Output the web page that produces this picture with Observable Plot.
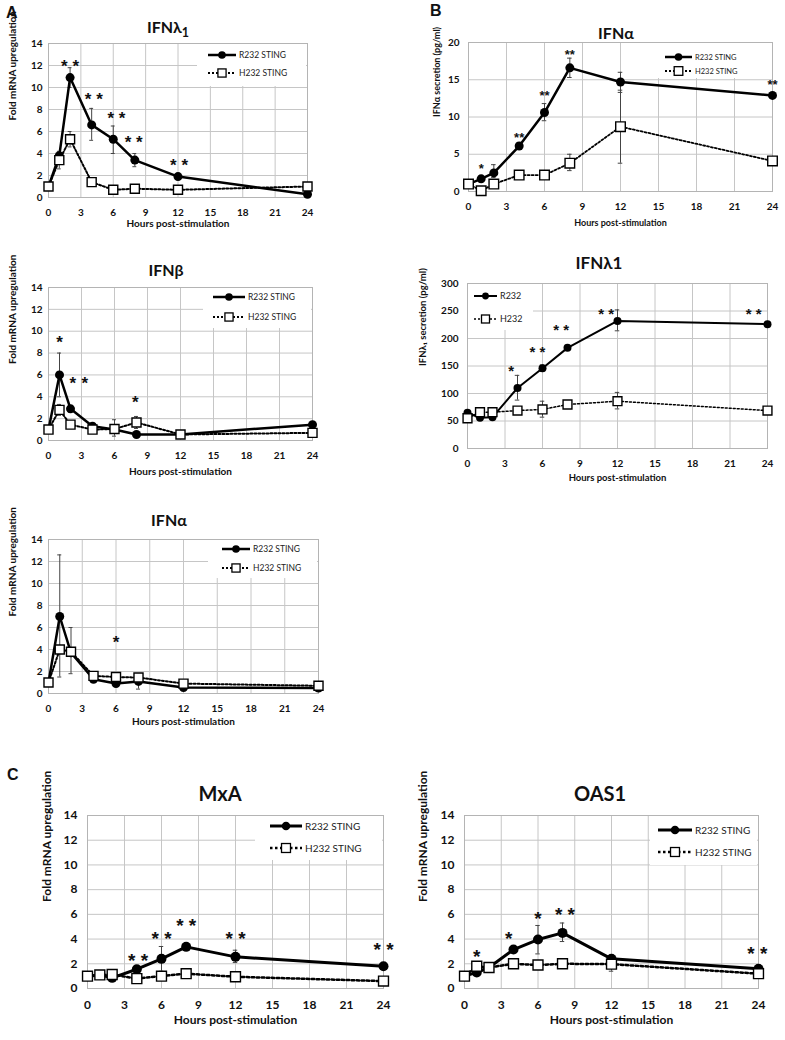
<!DOCTYPE html>
<html><head><meta charset="utf-8">
<script src="https://cdn.jsdelivr.net/npm/d3@7"></script>
<script src="https://cdn.jsdelivr.net/npm/@observablehq/plot@0.6"></script>
<style>
body{margin:0;background:#fff;}
#root{position:relative;width:785px;height:1040px;overflow:hidden;font-family:Lato,sans-serif;}
.ttl{position:absolute;transform:translate(-50%,-50%);font-weight:bold;white-space:nowrap;color:#111;line-height:1;}
.ttl sub{font-size:0.78em;vertical-align:-0.3em;line-height:0;}
.let{position:absolute;font-family:"Liberation Sans",Arial,sans-serif;font-weight:bold;font-size:16px;line-height:1;color:#111;}
#root svg{position:absolute;background:transparent;overflow:visible;}
</style></head><body><div id="root"></div>
<script>
// ---------- DATA ----------
const hours = [0, 1, 2, 4, 6, 8, 12, 24];
const xTicks = [0, 3, 6, 9, 12, 15, 18, 21, 24];
const seriesLong = ["R232 STING", "H232 STING"];
const seriesShort = ["R232", "H232"];
const mrnaTicks = [0, 2, 4, 6, 8, 10, 12, 14];
const ifnaSecTicks = [0, 5, 10, 15, 20];
const ifnl1SecTicks = [0, 50, 100, 150, 200, 250, 300];

// A: IFNλ1 mRNA
const aIfnl1R = [1.0, 3.8, 10.9, 6.6, 5.3, 3.4, 1.9, 0.3];
const aIfnl1H = [1.0, 3.4, 5.3, 1.4, 0.7, 0.8, 0.7, 1.0];
const aIfnl1RLo = [null, 3.3, 10.0, 5.2, 4.0, 2.8, 1.7, null];
const aIfnl1RHi = [null, 4.2, 11.8, 8.1, 6.5, 4.0, 2.1, null];
const aIfnl1HLo = [null, 2.6, 4.6, null, null, null, null, null];
const aIfnl1HHi = [null, 4.0, 6.0, null, null, null, null, null];
const aIfnl1Stars = [{x:2.0,y:12.4,label:"* *"},{x:4.2,y:9.4,label:"* *"},{x:6.3,y:7.6,label:"* *"},{x:7.9,y:5.5,label:"* *"},{x:12.1,y:3.4,label:"* *"}];

// A: IFNβ mRNA
const aIfnbR = [1.0, 6.0, 2.9, 1.3, 1.0, 0.55, 0.55, 1.45];
const aIfnbH = [1.0, 2.8, 1.45, 1.0, 1.05, 1.65, 0.55, 0.7];
const aIfnbRLo = [null, 4.0, 2.6, null, null, null, null, null];
const aIfnbRHi = [null, 8.0, 3.2, null, null, null, null, null];
const aIfnbHLo = [null, 2.3, null, null, 0.4, 1.1, null, null];
const aIfnbHHi = [null, 3.3, null, null, 1.9, 2.2, null, null];
const aIfnbStars = [{x:1.0,y:9.4,label:"*"},{x:2.2,y:5.7,label:"*"},{x:3.3,y:5.7,label:"*"},{x:7.9,y:3.9,label:"*"}];

// A: IFNα mRNA
const aIfnaR = [1.0, 7.0, 3.7, 1.3, 0.9, 1.1, 0.55, 0.5];
const aIfnaH = [1.0, 4.0, 3.8, 1.6, 1.5, 1.45, 0.9, 0.7];
const aIfnaRLo = [null, 1.5, null, null, null, 0.4, null, null];
const aIfnaRHi = [null, 12.6, null, null, null, 1.8, null, null];
const aIfnaHLo = [null, null, 1.8, null, null, null, null, null];
const aIfnaHHi = [null, null, 6.0, null, null, null, null, null];
const aIfnaStars = [{x:6.0,y:5.1,label:"*"}];

// B: IFNα secretion (pg/ml)
const bIfnaR = [1.0, 1.7, 2.5, 6.1, 10.6, 16.6, 14.7, 12.9];
const bIfnaH = [1.0, 0.1, 1.0, 2.2, 2.2, 3.8, 8.7, 4.1];
const bIfnaRLo = [null, 1.3, 1.9, 5.7, 9.5, 15.3, 13.3, 12.6];
const bIfnaRHi = [null, 2.1, 3.6, 6.5, 11.8, 17.9, 16.0, 13.2];
const bIfnaHLo = [null, null, null, null, null, 2.8, 3.8, 3.8];
const bIfnaHHi = [null, null, null, null, null, 5.0, 13.6, 4.4];
const bIfnaStars = [{x:1,y:3.6,label:"*"},{x:4,y:7.7,label:"**"},{x:6,y:13.3,label:"**"},{x:8,y:18.9,label:"**"},{x:24,y:14.8,label:"**"}];

// B: IFNλ1 secretion (pg/ml)
const bIfnl1R = [65, 56, 57, 110, 146, 183, 232, 226];
const bIfnl1H = [55, 66, 66, 69, 71, 80, 86, 69];
const bIfnl1RLo = [null, null, null, 88, 140, null, 214, null];
const bIfnl1RHi = [null, null, null, 133, 152, null, 252, null];
const bIfnl1HLo = [null, null, null, null, 57, null, 72, null];
const bIfnl1HHi = [null, null, null, null, 86, null, 102, null];
const bIfnl1Stars = [{x:3.5,y:149,label:"*"},{x:5.6,y:183,label:"* *"},{x:7.5,y:224,label:"* *"},{x:11.1,y:252,label:"* *"},{x:22.9,y:252,label:"* *"}];

// C: MxA mRNA
const cMxaR = [1.0, 1.1, 0.86, 1.56, 2.4, 3.37, 2.56, 1.8];
const cMxaH = [1.0, 1.1, 1.13, 0.8, 1.0, 1.2, 0.95, 0.6];
const cMxaRLo = [null, null, null, null, 1.4, 3.1, 2.1, null];
const cMxaRHi = [null, null, null, null, 3.4, 3.6, 3.1, null];
const cMxaHLo = [null, null, null, null, null, null, null, null];
const cMxaHHi = [null, null, null, null, null, null, null, null];
const cMxaStars = [{x:4.1,y:2.7,label:"* *"},{x:6,y:4.45,label:"* *"},{x:8,y:5.5,label:"* *"},{x:12,y:4.45,label:"* *"},{x:24,y:3.6,label:"* *"}];

// C: OAS1 mRNA
const cOasR = [1.0, 1.3, 1.7, 3.15, 3.96, 4.5, 2.4, 1.6];
const cOasH = [1.0, 1.8, 1.7, 2.0, 1.9, 2.0, 1.97, 1.2];
const cOasRLo = [null, null, null, 2.9, 2.8, 3.8, 2.2, null];
const cOasRHi = [null, null, null, 3.4, 5.1, 5.3, 2.6, null];
const cOasHLo = [null, null, null, null, null, null, 1.4, null];
const cOasHHi = [null, null, null, null, null, null, 2.4, null];
const cOasStars = [{x:1,y:3.0,label:"*"},{x:3.6,y:4.5,label:"*"},{x:6,y:6.1,label:"*"},{x:8.2,y:6.4,label:"* *"},{x:23.9,y:3.3,label:"* *"}];

// ---------- LAYOUT ----------
const root = document.getElementById("root");
const styleA = {tick:10, lab:10, xPad:11, yPad:6, xLabDy:29, yLabDx:-36, lw:2.5, dw:2, dash:"2,2", dotR:4.5, sqR:5.1, star:17, leg:8.5};
const panels = [
  {frame:[48,307,43,197], yDomain:[0,14], yTicks:mrnaTicks, R:aIfnl1R, H:aIfnl1H, RLo:aIfnl1RLo, RHi:aIfnl1RHi, HLo:aIfnl1HLo, HHi:aIfnl1HHi, stars:aIfnl1Stars,
   yLabel:"Fold mRNA upregulation", s:{...styleA}, names:seriesLong,
   legend:{box:[197,306,44,86], rows:[55,73], line:[208,236], tx:239}},
  {frame:[48,312,287,440], yDomain:[0,14], yTicks:mrnaTicks, R:aIfnbR, H:aIfnbH, RLo:aIfnbRLo, RHi:aIfnbRHi, HLo:aIfnbHLo, HHi:aIfnbHHi, stars:aIfnbStars,
   yLabel:"Fold mRNA upregulation", s:{...styleA, xLabDy:34}, names:seriesLong,
   legend:{box:[203,311,288,328], rows:[297,317], line:[213,245], tx:248}},
  {frame:[48,318,539,693], yDomain:[0,14], yTicks:mrnaTicks, R:aIfnaR, H:aIfnaH, RLo:aIfnaRLo, RHi:aIfnaRHi, HLo:aIfnaHLo, HHi:aIfnaHHi, stars:aIfnaStars,
   yLabel:"Fold mRNA upregulation", s:{...styleA, xLabDy:31}, names:seriesLong,
   legend:{box:[208,317,540,578], rows:[549,568], line:[222,250], tx:253}},
  {frame:[468,772,42,191], yDomain:[0,20], yTicks:ifnaSecTicks, R:bIfnaR, H:bIfnaH, RLo:bIfnaRLo, RHi:bIfnaRHi, HLo:bIfnaHLo, HHi:bIfnaHHi, stars:bIfnaStars,
   yLabel:"IFNα secretion (pg/ml)", s:{...styleA, lab:9, yPad:9, xLabDy:34, yLabDx:-31, dw:1.8, sqR:5.4, star:13, leg:7.5}, names:seriesLong,
   legend:{box:[650,771,43,78], rows:[57,71], line:[665,692], tx:695}},
  {frame:[467,767,283,448], yDomain:[0,300], yTicks:ifnl1SecTicks, R:bIfnl1R, H:bIfnl1H, RLo:bIfnl1RLo, RHi:bIfnl1RHi, HLo:bIfnl1HLo, HHi:bIfnl1HHi, stars:bIfnl1Stars,
   yLabel:"IFNλ₁ secretion (pg/ml)", s:{...styleA, lab:9.5, yPad:9, xLabDy:32, yLabDx:-45, lw:2, dw:1.5, dotR:4, sqR:5, star:15, leg:9}, names:seriesShort,
   legend:{box:[468,533,284,330], rows:[296,319], line:[474,497], tx:500}},
  {frame:[87,383,815,988], yDomain:[0,14], yTicks:mrnaTicks, R:cMxaR, H:cMxaH, RLo:cMxaRLo, RHi:cMxaRHi, HLo:cMxaHLo, HHi:cMxaHHi, stars:cMxaStars,
   yLabel:"Fold mRNA upregulation", s:{tick:12, lab:12, xPad:12, yPad:10, xLabDy:35, yLabDx:-40, lw:3, dw:2.5, dash:"2.5,2.5", dotR:5, sqR:5.6, star:19, leg:10}, names:seriesLong,
   legend:{box:[255,382,816,860], rows:[826,848], line:[270,302], tx:305}},
  {frame:[464,758,815,988], yDomain:[0,14], yTicks:mrnaTicks, R:cOasR, H:cOasH, RLo:cOasRLo, RHi:cOasRHi, HLo:cOasHLo, HHi:cOasHHi, stars:cOasStars,
   yLabel:"Fold mRNA upregulation", s:{tick:12, lab:12, xPad:12, yPad:10, xLabDy:35, yLabDx:-41, lw:3, dw:2.5, dash:"2.5,2.5", dotR:5, sqR:5.6, star:19, leg:10}, names:seriesLong,
   legend:{box:[650,757,816,865], rows:[830,852], line:[658,692], tx:695}}
];

const titles = [
  {html:"IFNλ<sub>1</sub>", x:168, y:27, size:16},
  {html:"IFNβ", x:166, y:270, size:16},
  {html:"IFNα", x:169, y:520, size:16},
  {html:"IFNα", x:616, y:33, size:16},
  {html:"IFNλ1", x:599, y:262, size:17},
  {html:"MxA", x:220, y:793, size:20},
  {html:"OAS1", x:600, y:793, size:20}
];
const letters = [{t:"A", x:6, y:5}, {t:"B", x:430, y:3}, {t:"C", x:7, y:767}];

const grid = "#c6c6c6";
function errMarks(rows, lo, hi) {
  const d = rows.filter(r => r[lo] != null);
  return [
    Plot.ruleX(d, {x:"x", y1:lo, y2:hi, stroke:"#444", strokeWidth:1}),
    Plot.ruleY(d, {y:hi, x1:r => r.x - 0.18, x2:r => r.x + 0.18, stroke:"#444", strokeWidth:1}),
    Plot.ruleY(d, {y:lo, x1:r => r.x - 0.18, x2:r => r.x + 0.18, stroke:"#444", strokeWidth:1})
  ];
}

panels.forEach(p => {
  const [x0,x1,y0,y1] = p.frame;
  const ml = 60, mr = 14, mt = 14, mb = 50;
  const s = p.s;
  const rows = hours.map((h,i) => ({x:h, r:p.R[i], h:p.H[i], rlo:p.RLo[i], rhi:p.RHi[i], hlo:p.HLo[i], hhi:p.HHi[i]}));
  const svg = Plot.plot({
    width: x1-x0+ml+mr, height: y1-y0+mt+mb,
    marginLeft: ml, marginRight: mr, marginTop: mt, marginBottom: mb,
    x: {domain:[0,24]}, y: {domain:p.yDomain},
    style: {background:"transparent", fontFamily:"Lato, sans-serif", color:"#111", overflow:"visible"},
    marks: [
      Plot.gridX(xTicks, {stroke:grid, strokeOpacity:1}),
      Plot.gridY(p.yTicks, {stroke:grid, strokeOpacity:1}),
      Plot.frame({stroke:"#b4b4b4"}),
      Plot.axisX(xTicks, {tickSize:0, tickPadding:s.xPad, fontSize:s.tick, fontWeight:"bold", label:null}),
      Plot.axisY(p.yTicks, {tickSize:0, tickPadding:s.yPad, fontSize:s.tick, fontWeight:"bold", label:null}),
      Plot.text(["Hours post-stimulation"], {frameAnchor:"bottom", dy:s.xLabDy, fontSize:s.lab, fontWeight:"bold"}),
      Plot.text([p.yLabel], {frameAnchor:"left", dx:s.yLabDx, rotate:-90, fontSize:s.lab, fontWeight:"bold"}),
      ...errMarks(rows, "rlo", "rhi"),
      ...errMarks(rows, "hlo", "hhi"),
      Plot.line(rows, {x:"x", y:"r", stroke:"black", strokeWidth:s.lw}),
      Plot.line(rows, {x:"x", y:"h", stroke:"black", strokeWidth:s.dw, strokeDasharray:s.dash}),
      Plot.dot(rows, {x:"x", y:"r", r:s.dotR, fill:"black"}),
      Plot.dot(rows, {x:"x", y:"h", symbol:"square", r:s.sqR, fill:"white", stroke:"black", strokeWidth:1.4}),
      Plot.text(p.stars, {x:"x", y:"y", text:"label", fontSize:s.star, fontFamily:"Liberation Sans, Arial, sans-serif", fontWeight:"bold", fill:"#111", dy:s.star*0.3})
    ]
  });
  const L = x0 - ml, T = y0 - mt;
  svg.style.left = L + "px";
  svg.style.top = T + "px";
  // legend
  const lg = p.legend;
  const g = d3.select(svg).append("g").attr("transform", `translate(${-L},${-T})`).attr("text-anchor", "start");
  g.append("rect").attr("x", lg.box[0]).attr("y", lg.box[2]).attr("width", lg.box[1]-lg.box[0]).attr("height", lg.box[3]-lg.box[2]).attr("fill", "white");
  const mid = (lg.line[0]+lg.line[1])/2;
  g.append("line").attr("x1", lg.line[0]).attr("x2", lg.line[1]).attr("y1", lg.rows[0]).attr("y2", lg.rows[0]).attr("stroke", "black").attr("stroke-width", s.lw);
  g.append("circle").attr("cx", mid).attr("cy", lg.rows[0]).attr("r", s.dotR*0.85).attr("fill", "black");
  g.append("line").attr("x1", lg.line[0]).attr("x2", lg.line[1]).attr("y1", lg.rows[1]).attr("y2", lg.rows[1]).attr("stroke", "black").attr("stroke-width", s.dw).attr("stroke-dasharray", s.dash);
  const sq = s.sqR*1.6;
  g.append("rect").attr("x", mid-sq/2).attr("y", lg.rows[1]-sq/2).attr("width", sq).attr("height", sq).attr("fill", "white").attr("stroke", "black").attr("stroke-width", 1.3);
  p.names.forEach((n,i) => {
    g.append("text").attr("x", lg.tx).attr("y", lg.rows[i]).attr("dy", "0.35em").attr("text-anchor", "start").attr("font-size", s.leg).attr("font-family", "Lato, sans-serif").attr("fill", "#222").text(n);
  });
  root.appendChild(svg);
});

titles.forEach(t => {
  const d = document.createElement("div");
  d.className = "ttl";
  d.style.left = t.x + "px"; d.style.top = t.y + "px"; d.style.fontSize = t.size + "px";
  d.innerHTML = t.html;
  root.appendChild(d);
});
letters.forEach(t => {
  const d = document.createElement("div");
  d.className = "let";
  d.style.left = t.x + "px"; d.style.top = t.y + "px";
  d.textContent = t.t;
  root.appendChild(d);
});
</script></body></html>
